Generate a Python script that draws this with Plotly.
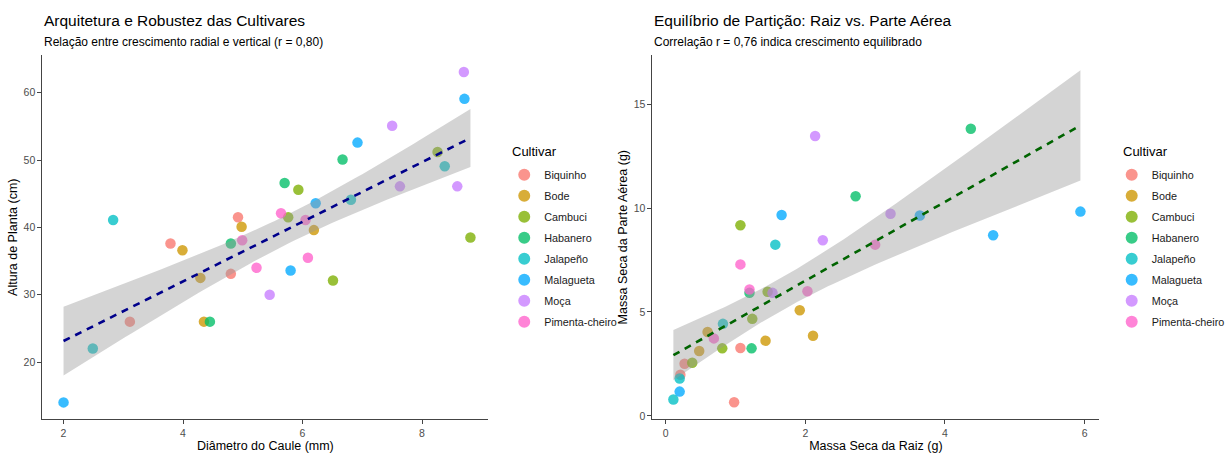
import numpy as np
import plotly.graph_objects as go

cultivars = ["Biquinho", "Bode", "Cambuci", "Habanero", "Jalapeño", "Malagueta", "Moça", "Pimenta-cheiro"]
colors = ["#F8766D", "#CD9600", "#7CAE00", "#00BE67", "#00BFC4", "#00A9FF", "#C77CFF", "#FF61CC"]

# Panel 1: stem diameter (mm) vs plant height (cm)
diam = {
    "Biquinho": [3.11, 3.79, 4.80, 4.92],
    "Bode": [3.99, 4.29, 4.35, 4.98, 6.19],
    "Cambuci": [5.76, 5.93, 6.51, 8.26, 8.81],
    "Habanero": [4.45, 4.80, 5.70, 6.67],
    "Jalapeño": [2.49, 2.83, 6.81, 8.38],
    "Malagueta": [2.00, 5.80, 6.22, 6.92, 8.71],
    "Moça": [5.45, 7.50, 7.63, 8.59, 8.70],
    "Pimenta-cheiro": [4.99, 5.23, 5.64, 6.05, 6.09],
}
altura = {
    "Biquinho": [26.0, 37.6, 33.1, 41.5],
    "Bode": [36.6, 32.5, 26.0, 40.1, 39.6],
    "Cambuci": [41.5, 45.6, 32.1, 51.2, 38.5],
    "Habanero": [26.0, 37.6, 46.6, 50.1],
    "Jalapeño": [22.0, 41.1, 44.1, 49.1],
    "Malagueta": [14.0, 33.6, 43.6, 52.6, 59.1],
    "Moça": [30.0, 55.1, 46.1, 46.1, 63.1],
    "Pimenta-cheiro": [38.1, 34.0, 42.1, 41.1, 35.5],
}

# Panel 2: root dry mass (g) vs shoot dry mass (g)
raiz = {
    "Biquinho": [0.21, 0.27, 0.98, 1.07],
    "Bode": [0.48, 0.60, 1.43, 1.92, 2.11],
    "Cambuci": [0.38, 0.81, 1.07, 1.24, 1.46],
    "Habanero": [1.20, 1.23, 2.72, 4.37],
    "Jalapeño": [0.11, 0.20, 0.82, 1.57],
    "Malagueta": [0.20, 1.66, 3.64, 4.69, 5.94],
    "Moça": [1.53, 2.14, 2.25, 3.22],
    "Pimenta-cheiro": [0.69, 1.07, 1.20, 2.03, 3.00],
}
aerea = {
    "Biquinho": [1.98, 2.51, 0.66, 3.27],
    "Bode": [3.12, 4.04, 3.62, 5.08, 3.86],
    "Cambuci": [2.56, 3.25, 9.17, 4.67, 5.97],
    "Habanero": [5.92, 3.25, 10.57, 13.82],
    "Jalapeño": [0.79, 1.80, 4.43, 8.24],
    "Malagueta": [1.17, 9.67, 9.64, 8.69, 9.83],
    "Moça": [5.92, 13.47, 8.45, 9.73],
    "Pimenta-cheiro": [3.73, 7.29, 6.08, 6.00, 8.24],
}

x1_ticks = [2, 4, 6, 8]
y1_ticks = [20, 30, 40, 50, 60]
x2_ticks = [0, 2, 4, 6]
y2_ticks = [0, 5, 10, 15]

# effective drawing area (the viewport the page is laid out in)
W, H = 1215, 450


def px(x):
    return x / W


def py(y):
    return (H - y) / H


def t975(df):
    z = 1.959963985
    return z + (z**3 + z) / (4 * df) + (5 * z**5 + 16 * z**3 + 3 * z) / (96 * df**2)


def lm_band(xd, yd, n_grid=80):
    x = np.asarray(xd, float)
    y = np.asarray(yd, float)
    n = len(x)
    b, a = np.polyfit(x, y, 1)
    res = y - (a + b * x)
    s = np.sqrt(np.sum(res**2) / (n - 2))
    xm = x.mean()
    sxx = np.sum((x - xm) ** 2)
    g = np.linspace(x.min(), x.max(), n_grid)
    fit = a + b * g
    se = s * np.sqrt(1.0 / n + (g - xm) ** 2 / sxx)
    t = t975(n - 2)
    return g, fit, fit - t * se, fit + t * se


fig = go.Figure()
FONT = "Liberation Sans, Arial, sans-serif"


def add_panel(xs, ys, xaxis, yaxis, legend, line_color):
    allx, ally = [], []
    for c, col in zip(cultivars, colors):
        fig.add_trace(go.Scatter(
            x=xs[c], y=ys[c], mode="markers", name=c,
            marker=dict(color=col, size=10.5, opacity=0.78, line=dict(width=0)),
            xaxis=xaxis, yaxis=yaxis, legend=legend, legendgroup=legend + c,
        ))
        allx += xs[c]
        ally += ys[c]
    g, fit, lo, hi = lm_band(allx, ally)
    fig.add_trace(go.Scatter(
        x=np.concatenate([g, g[::-1]]), y=np.concatenate([hi, lo[::-1]]),
        fill="toself", fillcolor="rgba(153,153,153,0.42)", line=dict(width=0),
        mode="lines", hoverinfo="skip", showlegend=False, xaxis=xaxis, yaxis=yaxis,
    ))
    fig.add_trace(go.Scatter(
        x=g, y=fit, mode="lines", line=dict(color=line_color, width=2.6, dash="7px,6px"),
        showlegend=False, xaxis=xaxis, yaxis=yaxis,
    ))


add_panel(diam, altura, "x", "y", "legend", "#00008B")
add_panel(raiz, aerea, "x2", "y2", "legend2", "#006400")

ydom = [py(418.3), py(55)]
axis_common = dict(
    showgrid=False, zeroline=False, showline=True, linecolor="#444", linewidth=1,
    ticks="outside", ticklen=4, tickcolor="#444", tickwidth=1,
    tickfont=dict(family=FONT, size=10.5, color="#4D4D4D"),
)
title_font = dict(family=FONT, size=12.5, color="#000")
legend_common = dict(
    xanchor="left", yanchor="top",
    font=dict(family=FONT, size=10.8, color="#1a1a1a"),
    traceorder="grouped", tracegroupgap=2, bgcolor="rgba(0,0,0,0)", itemsizing="constant",
)

fig.update_layout(
    autosize=True,
    margin=dict(l=0, r=0, t=0, b=0),
    paper_bgcolor="white", plot_bgcolor="white",
    font=dict(family=FONT),
    xaxis=dict(domain=[px(42.7), px(492)], range=[1.646, 9.11], tickvals=x1_ticks,
               title=dict(text="Diâmetro do Caule (mm)", font=title_font, standoff=3),
               anchor="y", **axis_common),
    yaxis=dict(domain=ydom, range=[11.5, 65.6], tickvals=y1_ticks,
               title=dict(text="Altura de Planta (cm)", font=title_font, standoff=3),
               anchor="x", **axis_common),
    xaxis2=dict(domain=[px(657.3), px(1107.5)], range=[-0.19, 6.21], tickvals=x2_ticks,
                title=dict(text="Massa Seca da Raiz (g)", font=title_font, standoff=3),
                anchor="y2", **axis_common),
    yaxis2=dict(domain=ydom, range=[-0.16, 17.36], tickvals=y2_ticks,
                title=dict(text="Massa Seca da Parte Aérea (g)", font=title_font, standoff=3),
                anchor="x2", **axis_common),
    legend=dict(x=px(508), y=py(160), **legend_common),
    legend2=dict(x=px(1120), y=py(160), **legend_common),
    showlegend=True,
)

annots = [
    dict(text="Arquitetura e Robustez das Cultivares", x=42, y=20, size=15.5),
    dict(text="Relação entre crescimento radial e vertical (r = 0,80)", x=42, y=42, size=12),
    dict(text="Equilíbrio de Partição: Raiz vs. Parte Aérea", x=657, y=20, size=15.5),
    dict(text="Correlação r = 0,76 indica crescimento equilibrado", x=657, y=42, size=12),
    dict(text="Cultivar", x=514, y=151, size=13),
    dict(text="Cultivar", x=1129, y=151, size=13),
]
for a in annots:
    fig.add_annotation(text=a["text"], x=px(a["x"]), y=py(a["y"]), xref="paper", yref="paper",
                       xanchor="left", yanchor="middle", showarrow=False,
                       font=dict(family=FONT, size=a["size"], color="#000"))

post = (
    "document.documentElement.style.margin='0';"
    "document.body.style.margin='0';"
    "document.documentElement.style.overflow='hidden';"
    "document.body.style.overflow='hidden';"
    "var gd=document.getElementById('{plot_id}');"
    "gd.style.width='100vw';gd.style.height='100vh';"
    "Plotly.Plots.resize(gd);"
)
fig.write_html("out.html", config={"displayModeBar": False, "responsive": True},
               default_width="100vw", default_height="100vh", post_script=post)
